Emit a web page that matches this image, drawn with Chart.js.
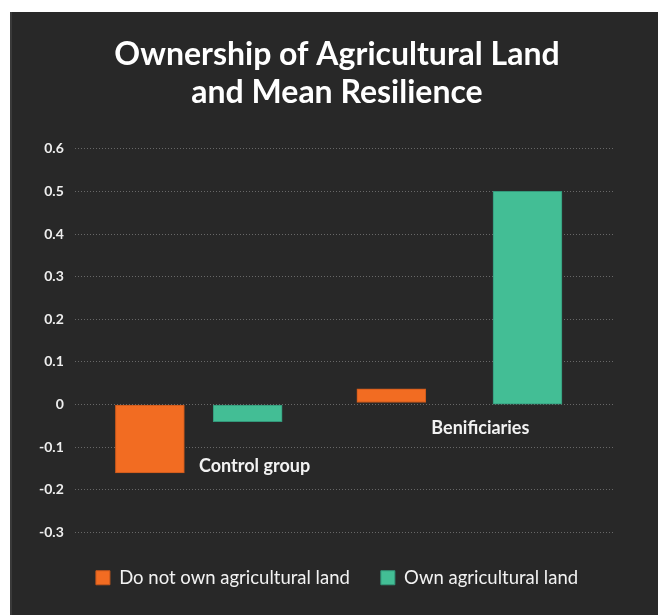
<!DOCTYPE html>
<html>
<head>
<meta charset="utf-8">
<script src="https://cdn.jsdelivr.net/npm/chart.js@4.4.1/dist/chart.umd.min.js"></script>
<style>
    html, body { margin: 0; padding: 0; background: #ffffff; }
    #frame {
        position: absolute;
        left: 10px;
        top: 12px;
        width: 648px;
        height: 603px;
        background: linear-gradient(to right, #3a3a3a 0px, #3a3a3a 2px, #282828 2px);
    }
</style>
</head>
<body>
<div id="frame"><canvas id="landChart"></canvas></div>
<script>
// datos del gráfico
const categorias = ["Control group", "Beneficiaries"];
const etiquetasGrupo = ["Control group", "Benificiaries"];
const noPoseen = [-0.16, [0.005, 0.037]];
const poseen = [-0.04, 0.5];
const seriesNombres = ["Do not own agricultural land", "Own agricultural land"];
const ticksY = [-0.3, -0.2, -0.1, 0, 0.1, 0.2, 0.3, 0.4, 0.5, 0.6];

// posiciones horizontales (0-100) de cada barra y etiqueta
const posNoPoseen = [13.9, 58.6];
const posPoseen = [32.0, 83.8];
const posEtiquetas = [[23.0, -0.145], [66.0, -0.055]];

const naranja = "#f26c22";
const verde = "#43be95";

// etiquetas de grupo dentro del área del gráfico
const etiquetasPlugin = {
    id: "etiquetasGrupo",
    afterDatasetsDraw(chart) {
        const { ctx, scales } = chart;
        ctx.save();
        ctx.fillStyle = "#f2f2f2";
        ctx.font = "bold 18px Lato";
        ctx.textBaseline = "middle";
        ctx.textAlign = "left";
        etiquetasGrupo.forEach((txt, i) => {
            const x = scales.x.getPixelForValue(posEtiquetas[i][0]);
            const y = scales.y.getPixelForValue(posEtiquetas[i][1]);
            ctx.fillText(txt, x, y);
        });
        ctx.restore();
    },
};

// centra título y leyenda sobre el lienzo completo, no sobre el área con padding
const centrarPlugin = {
    id: "centrar",
    afterLayout(chart) {
        const d = 15.5;
        [chart.titleBlock, chart.legend].forEach((b) => {
            if (b) {
                b.left += d;
                b.right += d;
            }
        });
    },
};

document.addEventListener("DOMContentLoaded", () => {
    const ctx = document.getElementById("landChart");

    let config = {
        type: "bar",
        data: {
            labels: categorias,
            datasets: [
                {
                    label: seriesNombres[0],
                    data: noPoseen.map((v, i) => ({ x: posNoPoseen[i], y: v })),
                    backgroundColor: naranja,
                    borderColor: "#c9581c",
                    borderWidth: 1,
                    borderSkipped: false,
                },
                {
                    label: seriesNombres[1],
                    data: poseen.map((v, i) => ({ x: posPoseen[i], y: v })),
                    backgroundColor: verde,
                    borderColor: "#33977a",
                    borderWidth: 1,
                    borderSkipped: false,
                },
            ],
        },
        options: {
            responsive: true,
            maintainAspectRatio: false,
            animation: false,
            grouped: false,
            barPercentage: 1,
            categoryPercentage: 1,
            maxBarThickness: 69,
            layout: {
                padding: { left: 18, right: 43, top: 0, bottom: 18 },
            },
            plugins: {
                title: {
                    display: true,
                    text: ["Ownership of Agricultural Land", "and Mean Resilience"],
                    color: "#ffffff",
                    font: { family: "Lato", size: 32, weight: "bold", lineHeight: 1.2 },
                    padding: { top: 23, bottom: 37 },
                },
                legend: {
                    position: "bottom",
                    labels: {
                        color: "#f2f2f2",
                        font: { family: "Lato", size: 18.5 },
                        boxWidth: 14,
                        boxHeight: 14,
                        padding: 31,
                    },
                },
                tooltip: { enabled: false },
            },
            scales: {
                x: {
                    type: "linear",
                    display: true,
                    min: 0,
                    max: 100,
                    afterBuildTicks: (axis) => {
                        axis.ticks = [];
                    },
                    afterFit: (axis) => {
                        axis.height = 5;
                    },
                    grid: { display: false },
                    border: { display: false },
                    ticks: { display: false },
                },
                y: {
                    min: -0.3,
                    max: 0.6,
                    afterBuildTicks: (axis) => {
                        axis.ticks = ticksY.map((v) => ({ value: v }));
                    },
                    // líneas de rejilla punteadas
                    border: { display: false, dash: [1, 2] },
                    grid: {
                        color: "rgba(255,255,255,0.3)",
                        lineWidth: 1,
                        drawTicks: false,
                    },
                    ticks: {
                        color: "#eeeeee",
                        padding: 11,
                        font: { family: "Lato", size: 14, weight: "bold" },
                        callback: (v) => String(Math.round(v * 10) / 10),
                    },
                },
            },
        },
        plugins: [etiquetasPlugin, centrarPlugin],
    };

    new Chart(ctx, config);
});
</script>
</body>
</html>
